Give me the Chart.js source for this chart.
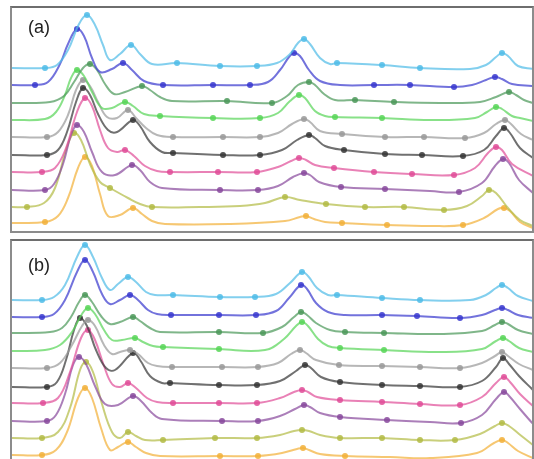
<!DOCTYPE html>
<html>
<head>
<meta charset="utf-8">
<script src="https://cdn.jsdelivr.net/npm/chart.js@4"></script>
<style>
  body { margin: 0; background: #fff; width: 534px; height: 459px; overflow: hidden; position: relative; font-family: "Liberation Sans", Arial, sans-serif; }
  .panel { position: absolute; left: 10px; width: 520px; border: 2px solid #8c8c8c; border-top-color: #6e6e6e; overflow: hidden; }
  #pa { top: 6px; height: 223px; }
  #pb { top: 239px; height: 224px; }
  .panel canvas { position: absolute; left: 0; top: 0; }
  .tag { position: absolute; left: 16px; font-size: 18px; color: #222; }
</style>
</head>
<body>
<div class="panel" id="pa">
  <canvas id="chartA" width="520" height="223"></canvas>
  <div class="tag" style="top:9px">(a)</div>
</div>
<div class="panel" id="pb">
  <canvas id="chartB" width="520" height="224"></canvas>
  <div class="tag" style="top:14px">(b)</div>
</div>
<script>
// curve colours, top to bottom
const colors = ['#52bde8', '#3b3bcf', '#4e9a5c', '#5ad65a', '#9b9b9b', '#393939', '#e0509a', '#8a4c9e', '#b4bc48', '#f2b23c'];

// ---- panel (a): [x, intensity] ----
const a1 = [[0,162],[33,162],[45,165],[56,180],[67,206],[75,215],[83,205],[91,185],[98,170],[108,176],[119,185],[128,176],[140,166],[165,167],[208,164],[245,164],[265,167],[278,176],[286,187],[292,191],[298,186],[308,172],[318,166],[325,167],[370,165],[408,162],[458,161],[474,165],[484,173],[490,177],[496,174],[506,164],[521,161]];
const a2 = [[0,145],[23,145],[36,148],[48,166],[56,186],[65,201],[72,194],[80,172],[88,158],[100,161],[111,167],[120,160],[132,149],[151,145],[201,145],[238,145],[256,148],[268,160],[277,173],[282,177],[288,174],[297,160],[308,149],[328,145],[362,145],[398,145],[442,143],[460,145],[474,150],[483,153],[490,151],[500,146],[521,144]];
const a3 = [[0,127],[38,128],[52,134],[62,148],[71,162],[78,166],[85,160],[93,146],[102,136],[113,138],[130,144],[138,140],[148,133],[160,129],[215,129],[260,127],[275,134],[286,145],[297,148],[303,145],[312,136],[323,130],[343,130],[382,128],[428,127],[468,128],[484,133],[497,138],[504,135],[512,130],[521,127]];
const a4 = [[0,110],[33,111],[44,118],[53,135],[59,152],[65,160],[72,154],[80,138],[90,122],[100,122],[113,128],[121,124],[132,116],[148,114],[201,112],[248,112],[266,117],[278,129],[287,135],[293,132],[303,119],[313,114],[323,113],[370,112],[418,110],[463,112],[475,118],[484,123],[490,121],[500,114],[508,112],[521,109]];
const a5 = [[0,93],[35,93],[46,98],[56,115],[64,140],[71,150],[78,144],[86,128],[95,113],[105,112],[116,120],[124,112],[134,102],[145,95],[161,93],[211,93],[248,93],[266,97],[280,106],[292,111],[298,108],[308,99],[330,96],[373,93],[412,93],[453,92],[472,97],[484,106],[493,110],[499,106],[509,96],[521,90]];
const a6 = [[0,75],[35,75],[46,80],[55,98],[64,128],[71,142],[78,135],[86,116],[96,100],[105,98],[121,110],[128,104],[138,88],[150,78],[161,77],[211,75],[248,75],[270,80],[285,90],[297,95],[303,92],[313,84],[332,80],[373,76],[410,75],[451,74],[472,80],[484,94],[492,102],[498,97],[508,82],[521,72]];
const a7 = [[0,58],[30,58],[43,62],[54,82],[65,118],[73,132],[80,124],[88,100],[96,82],[105,78],[113,80],[122,74],[133,64],[145,59],[158,58],[206,58],[245,58],[266,63],[279,69],[287,72],[294,70],[303,65],[322,62],[362,58],[400,56],[442,55],[463,62],[476,77],[484,83],[490,80],[500,66],[521,54]];
const a8 = [[0,40],[33,40],[42,46],[51,66],[59,95],[65,105],[72,98],[80,78],[90,58],[103,55],[120,65],[128,60],[138,48],[150,42],[208,40],[246,40],[266,44],[281,53],[292,57],[298,55],[307,48],[329,43],[373,41],[418,39],[447,38],[470,47],[483,64],[491,71],[497,67],[507,50],[521,37]];
const a9 = [[0,23],[15,23],[32,27],[43,42],[54,80],[62,97],[69,90],[78,66],[88,48],[98,42],[116,32],[128,26],[140,23],[188,23],[228,24],[253,27],[273,33],[288,30],[314,26],[353,23],[392,23],[432,20],[455,24],[470,34],[477,40],[484,37],[496,22],[508,10],[521,4]];
const a10 = [[0,7],[33,8],[46,14],[56,32],[66,62],[73,73],[80,64],[88,36],[96,14],[108,15],[121,22],[130,16],[140,9],[153,6],[218,6],[273,9],[288,13],[294,14],[302,11],[313,8],[330,7],[375,5],[418,4],[451,5],[472,12],[486,21],[492,22],[498,19],[508,8],[521,2]];
// x positions that carry a dot
const aDots = [
  [33,75,119,165,208,245,292,325,370,408,490],
  [23,65,111,151,201,238,282,362,398,442,483],
  [78,130,215,260,297,343,382,497],
  [65,113,148,201,248,287,323,370,484],
  [35,71,116,161,211,248,292,330,373,412,453,493],
  [35,71,121,161,211,248,297,332,373,410,451,492],
  [30,73,113,158,206,245,287,322,362,400,442,484],
  [33,65,120,208,246,292,329,373,447,491],
  [15,62,98,140,273,314,353,392,432,477],
  [33,73,121,294,330,375,451,492]
];

// ---- panel (b) ----
const b1 = [[0,160],[30,160],[42,163],[53,175],[65,203],[73,215],[81,203],[90,182],[98,170],[106,176],[116,183],[124,178],[134,168],[143,165],[161,165],[208,163],[243,163],[264,166],[278,177],[290,188],[296,184],[305,172],[316,165],[325,165],[370,162],[408,160],[458,160],[474,165],[484,172],[490,175],[496,172],[506,164],[521,159]];
const b2 = [[0,143],[30,143],[42,146],[53,160],[65,188],[73,200],[81,188],[90,166],[98,156],[108,160],[118,165],[126,160],[136,150],[145,146],[159,145],[207,145],[244,145],[264,149],[277,162],[289,175],[295,171],[304,157],[316,148],[333,145],[370,145],[405,144],[448,142],[470,145],[483,150],[490,152],[496,150],[506,145],[521,142]];
const b3 = [[0,127],[38,128],[50,132],[59,143],[67,158],[73,165],[80,158],[89,144],[98,136],[108,138],[121,143],[128,139],[138,132],[148,128],[207,128],[251,127],[270,133],[282,143],[289,148],[295,145],[304,137],[318,130],[333,128],[372,127],[428,126],[470,129],[483,135],[490,138],[496,136],[506,130],[521,126]];
const b4 = [[0,109],[33,110],[48,115],[60,128],[70,146],[76,152],[83,146],[92,130],[100,120],[110,120],[123,122],[131,118],[141,114],[151,113],[207,111],[253,110],[272,121],[284,134],[290,138],[296,134],[306,121],[316,114],[328,112],[372,110],[428,108],[470,111],[484,119],[491,122],[497,119],[507,112],[521,108]];
const b5 = [[0,92],[35,92],[48,97],[60,115],[70,134],[76,140],[83,134],[92,115],[100,106],[108,108],[118,110],[126,106],[136,97],[145,94],[160,93],[210,93],[246,93],[266,97],[279,106],[288,110],[294,107],[304,100],[327,95],[370,94],[408,93],[448,92],[470,97],[483,104],[490,108],[496,104],[507,96],[521,90]];
const b6 = [[0,73],[35,73],[45,78],[54,100],[62,130],[68,142],[75,134],[84,110],[94,92],[103,90],[121,107],[128,100],[138,84],[150,77],[158,77],[207,75],[245,75],[268,79],[284,89],[293,95],[299,92],[309,83],[328,78],[370,75],[408,74],[448,73],[470,79],[484,93],[491,102],[497,96],[507,84],[521,70]];
const b7 = [[0,57],[31,57],[46,62],[58,88],[69,122],[76,130],[83,120],[92,94],[100,76],[108,73],[116,77],[124,72],[135,62],[145,58],[161,57],[207,57],[245,57],[268,62],[282,68],[290,70],[296,68],[305,63],[328,60],[370,58],[408,56],[448,55],[470,63],[484,77],[492,83],[498,78],[508,66],[521,54]];
const b8 = [[0,39],[35,39],[44,45],[53,66],[61,95],[67,103],[74,96],[83,74],[93,56],[106,55],[121,64],[129,59],[140,47],[150,41],[210,39],[246,39],[268,44],[283,51],[292,55],[298,53],[308,47],[328,43],[375,40],[418,38],[449,37],[470,45],[484,61],[492,68],[498,63],[508,51],[521,36]];
const b9 = [[0,22],[30,22],[46,28],[58,52],[68,90],[74,98],[81,88],[90,56],[100,28],[108,22],[116,28],[124,24],[133,20],[151,20],[203,22],[245,22],[268,25],[282,29],[290,30],[297,29],[308,25],[328,22],[370,22],[408,20],[443,20],[468,26],[483,34],[490,37],[497,34],[507,26],[521,15]];
const b10 = [[0,5],[30,5],[44,10],[55,28],[66,62],[73,72],[80,62],[89,32],[98,10],[106,13],[116,18],[124,13],[134,7],[148,4],[208,4],[246,4],[270,7],[285,11],[291,12],[297,10],[308,6],[333,4],[378,3],[418,2],[465,7],[482,17],[490,20],[496,17],[506,9],[521,2]];
const bDots = [
  [30,73,116,161,208,243,290,325,370,408,490],
  [30,73,118,159,207,244,289,370,405,448,490],
  [73,121,207,251,289,333,372,490],
  [76,123,151,207,290,328,372,491],
  [35,76,118,160,210,246,288,327,370,408,448,490],
  [35,68,121,158,207,245,293,328,370,408,448,491],
  [31,76,116,161,207,245,290,328,370,408,448,492],
  [35,67,121,210,246,292,328,375,449,492],
  [30,74,116,151,203,245,290,328,370,408,443,490],
  [30,73,116,208,246,291,333,490]
];

function makeChart(id, curves, dots, ymin, ymax) {
  new Chart(document.getElementById(id), {
    type: 'line',
    data: {
      datasets: curves.map((c, i) => ({
        data: c.map(p => ({ x: p[0], y: p[1] })),
        borderColor: colors[i] + 'b8',
        backgroundColor: colors[i],
        borderWidth: 2,
        tension: 0.4,
        pointRadius: ctx => dots[i].includes(ctx.raw.x) ? 3 : 0,
        pointBorderWidth: 0,
        pointBackgroundColor: colors[i] + 'e0',
        fill: false
      }))
    },
    options: {
      responsive: false,
      animation: false,
      events: [],
      layout: { padding: 0 },
      plugins: { legend: { display: false }, tooltip: { enabled: false } },
      scales: {
        x: { type: 'linear', display: false, min: 0, max: 520 },
        y: { display: false, min: ymin, max: ymax }
      }
    }
  });
}

makeChart('chartA', [a1, a2, a3, a4, a5, a6, a7, a8, a9, a10], aDots, -1, 222);
makeChart('chartB', [b1, b2, b3, b4, b5, b6, b7, b8, b9, b10], bDots, -5, 219);
</script>
</body>
</html>
